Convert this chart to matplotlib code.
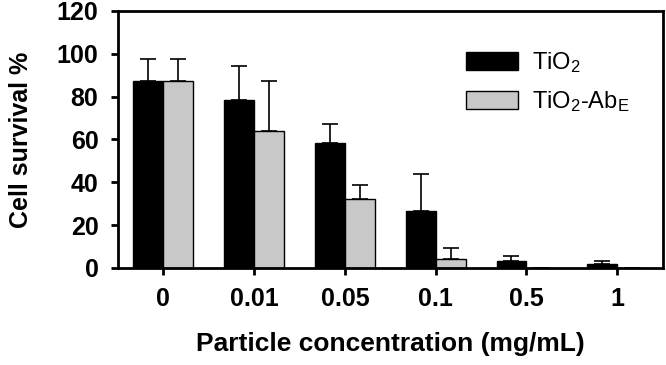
import matplotlib
matplotlib.use('Agg')
import matplotlib.pyplot as plt
import numpy as np

plt.rcParams['font.family'] = ['Liberation Sans', 'DejaVu Sans']
plt.rcParams['mathtext.default'] = 'regular'

concentrations = ['0', '0.01', '0.05', '0.1', '0.5', '1']
tio2 = [87.4, 78.4, 58.2, 26.5, 3.3, 1.7]
tio2_err = [10.2, 15.9, 8.9, 17.4, 2.3, 1.6]
tio2_ab = [87.4, 63.8, 32.1, 4.3, 0.0, 0.0]
tio2_ab_err = [10.3, 23.6, 6.6, 4.9, 0.0, 0.0]


def plot_survival():
    fig = plt.figure(figsize=(6.66, 3.65), dpi=100)
    ax = fig.add_axes([0.177, 0.266, 0.818, 0.704])

    x = np.arange(len(concentrations))
    w = 0.33
    ax.bar(x - w / 2, tio2, width=w, color='black', edgecolor='black', lw=1,
           yerr=[np.zeros(len(x)), tio2_err], capsize=6,
           error_kw=dict(ecolor='black', elinewidth=1.2, capthick=1.2),
           label='TiO$_2$')
    ax.bar(x + w / 2, tio2_ab, width=w, color='#c8c8c8', edgecolor='black', lw=1,
           yerr=[np.zeros(len(x)), tio2_ab_err], capsize=6,
           error_kw=dict(ecolor='black', elinewidth=1.2, capthick=1.2),
           label='TiO$_2$-Ab$_E$')

    ax.set_xlim(-0.5, 5.5)
    ax.set_ylim(0, 120)
    ax.set_yticks(np.arange(0, 121, 20))
    ax.set_xticks(x)
    ax.set_xticklabels(concentrations)
    for s in ax.spines.values():
        s.set_linewidth(2)
    ax.tick_params(axis='both', which='major', direction='out', length=5, width=2,
                   labelsize=18, pad=9)
    for lab in ax.get_xticklabels() + ax.get_yticklabels():
        lab.set_fontweight('bold')
    ax.set_ylabel('Cell survival %', fontsize=18, fontweight='bold', labelpad=17)
    ax.set_xlabel('Particle concentration (mg/mL)', fontsize=19, fontweight='bold', labelpad=15)

    ax.legend(loc='upper left', bbox_to_anchor=(0.6, 0.93), frameon=False, fontsize=17,
              handlelength=2.2, handleheight=0.8, handletextpad=0.6, labelspacing=0.6)

    plt.savefig('out.png', dpi=100)


if __name__ == "__main__":
    plot_survival()
